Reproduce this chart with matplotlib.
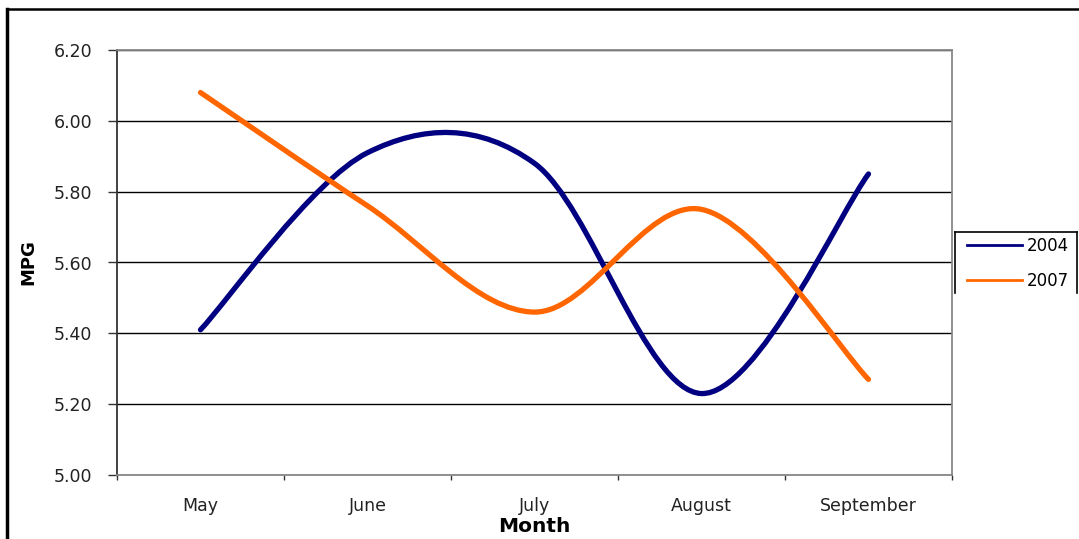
import numpy as np
import matplotlib.pyplot as plt
from matplotlib.path import Path
from matplotlib.patches import PathPatch
from matplotlib.lines import Line2D
from matplotlib import rc
rc("font", family=["DejaVu Sans"], size=12.5)

# Monthly MPG
months = ["May", "June", "July", "August", "September"]
mpg_2004 = [5.41, 5.91, 5.88, 5.23, 5.85]
mpg_2007 = [6.08, 5.76, 5.46, 5.75, 5.27]

blue = "#000080"
orange = "#FF6600"


def smooth_path(x, y):
    # Bezier path through the points (Catmull-Rom style control points)
    pts = np.column_stack([x, y]).astype(float)
    n = len(pts)
    verts = [pts[0]]
    codes = [Path.MOVETO]
    for i in range(n - 1):
        p_prev = pts[max(i - 1, 0)]
        p_next2 = pts[min(i + 2, n - 1)]
        c1 = pts[i] + (pts[i + 1] - p_prev) / 6.0
        c2 = pts[i + 1] - (p_next2 - pts[i]) / 6.0
        verts += [c1, c2, pts[i + 1]]
        codes += [Path.CURVE4] * 3
    return Path(verts, codes)


W, H = 1079, 539
fig = plt.figure(figsize=(W / 100, H / 100), dpi=100)
ax = fig.add_axes([117/W, 64/H, 835/W, 425/H])

x = np.arange(len(months))
for vals, col in [(mpg_2004, blue), (mpg_2007, orange)]:
    patch = PathPatch(smooth_path(x, vals), fill=False, edgecolor=col,
                      lw=3.8, capstyle="round", joinstyle="round", zorder=3)
    ax.add_patch(patch)

ax.set_xlim(-0.5, len(months) - 0.5)
ax.set_ylim(5.0, 6.2)
yt = np.arange(5.0, 6.21, 0.2)
ax.set_yticks(yt)
ax.set_yticklabels(["%.2f" % v for v in yt], color="#222222")
ax.set_xticks(x)
ax.set_xticklabels(months, color="#222222")
ax.set_xticks(np.arange(-0.5, len(months), 1.0), minor=True)
ax.tick_params(axis="x", which="major", length=0, pad=16)
ax.tick_params(axis="x", which="minor", length=3.6, width=1, direction="out", color="#333333")
ax.tick_params(axis="y", length=6.5, width=1, direction="out", color="#333333", pad=11.5)

ax.grid(axis="y", color="black", lw=1)
ax.set_axisbelow(True)
for s in ["top", "right", "bottom"]:
    ax.spines[s].set_color("#888888")
    ax.spines[s].set_linewidth(1.3)
ax.spines["left"].set_color("#333333")
ax.spines["left"].set_linewidth(1.3)

ax.set_ylabel("MPG", weight="bold", fontsize=13)
ax.set_xlabel("Month", weight="bold", fontsize=14.5)
ax.yaxis.set_label_coords(-80/835, 0.5)
ax.xaxis.set_label_coords(0.5, -42/425)

handles = [Line2D([], [], color=blue, lw=2), Line2D([], [], color=orange, lw=2)]
leg = fig.legend(handles, ["2004", "2007"], loc="upper left",
                 bbox_to_anchor=(950/W, 1 - 220/H), frameon=False,
                 handlelength=3.3, handletextpad=0.3,
                 labelspacing=1.05, borderpad=0.5, fontsize=12)

# legend box edges (left, top, right)
box = dict(color="black", lw=1.2, transform=fig.transFigure)
fig.add_artist(Line2D([955/W, 955/W], [1 - 293/H, 1 - 232/H], **box))
fig.add_artist(Line2D([955/W, 1077/W], [1 - 232/H, 1 - 232/H], **box))
fig.add_artist(Line2D([1077/W, 1077/W], [1 - 232/H, 1 - 293/H], **box))

# outer chart frame
fig.add_artist(Line2D([7/W, 7/W], [0, 1 - 9/H], color="black", lw=2.5,
                      transform=fig.transFigure))
fig.add_artist(Line2D([7/W, 1], [1 - 9/H, 1 - 9/H], color="black", lw=1.8,
                      transform=fig.transFigure))

fig.savefig("out.png", dpi=100)
